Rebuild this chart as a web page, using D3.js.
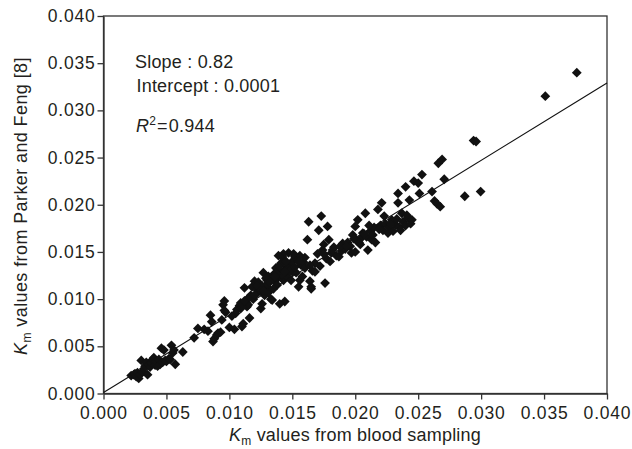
<!DOCTYPE html>
<html>
<head>
<meta charset="utf-8">
<script src="https://cdn.jsdelivr.net/npm/d3@7"></script>
<style>
  html, body { margin: 0; padding: 0; background: #fff; }
  svg { display: block; }
  text { font-family: "Liberation Sans", Arial, Helvetica, sans-serif; fill: #231f20; }
</style>
</head>
<body>
<svg id="chart" width="632" height="449"></svg>
<script>
// Km values (in units of 0.001)
const kmBlood = [
  2.2,2.4,2.5,2.6,2.7,2.8,2.9,3.0,3.1,3.2,3.3,3.4,3.5,3.6,3.7,3.8,3.9,4.0,4.1,4.2,4.3,4.4,4.5,4.6,4.7,4.8,4.9,5.0,5.2,5.3,5.4,5.5,5.6,5.7,6.3,
  7.2,7.5,8.0,8.3,8.5,8.7,8.8,9.0,9.1,9.3,9.4,9.5,9.6,9.7,10.0,10.4,10.6,10.8,10.9,11.0,11.1,11.2,11.3,11.4,11.5,11.6,11.7,11.8,11.9,
  12.0,12.1,12.2,12.3,12.4,12.5,12.6,12.7,12.8,12.9,13.0,13.1,13.2,13.3,13.4,13.5,13.6,13.7,13.8,13.9,14.0,14.1,14.2,14.3,14.4,14.5,
  14.6,14.7,14.8,14.9,15.0,15.1,15.2,15.3,15.4,15.5,15.6,15.7,15.8,15.9,16.0,16.2,16.3,16.4,16.5,16.6,16.8,17.0,17.1,17.3,17.4,17.5,
  17.6,17.7,17.8,17.9,18.0,18.1,18.3,18.5,18.7,18.9,19.0,19.2,19.4,19.6,19.7,19.8,20.0,20.0,20.1,20.2,20.4,20.5,20.6,20.8,20.9,21.0,
  21.2,21.3,21.5,21.6,21.8,22.0,22.1,22.2,22.4,22.6,22.7,22.9,23.0,23.2,23.3,23.4,23.4,23.5,23.7,23.8,24.0,24.0,24.2,24.3,24.4,24.5,
  24.66,25.0,25.1,25.3,26.1,26.3,26.5,26.6,26.75,26.9,27.07,28.7,29.4,29.6,29.96,35.1,37.6,
  12.3,12.6,13.0,13.4,13.8,14.2,14.6,15.0,11.5,11.0,10.9,12.8,13.1,16.0,16.4,16.8,17.2,17.5,15.6,15.1,14.3,13.9,16.5,14.0,
  11.2,11.6,12.0,12.2,12.5,12.9,13.2,13.5,13.7,14.0,14.3,14.5,14.8,15.2,15.5,12.7,13.6,14.4,10.5,10.2,
  19.9,20.3,20.7,21.1,21.4,21.9,22.3,22.8,23.6,24.1,18.2,18.8,19.3,8.6,9.6
];
const kmParker = [
  1.9,2.0,2.1,1.8,2.2,1.6,2.0,3.5,2.3,2.6,2.9,3.3,2.0,3.1,2.8,3.2,3.6,3.8,3.0,3.4,2.9,3.6,3.1,4.8,3.3,4.6,3.5,3.4,3.7,3.6,5.1,4.3,4.6,3.1,4.4,
  5.9,6.9,6.8,6.6,8.3,5.5,5.8,6.2,6.4,6.5,7.8,9.4,9.8,8.6,7.0,6.8,8.9,9.3,9.0,7.1,7.4,11.2,9.6,9.2,10.1,8.0,10.4,11.3,10.0,
  11.9,10.5,11.0,10.8,11.5,9.0,9.5,12.8,11.2,10.6,12.0,12.4,11.0,10.0,9.9,12.6,11.9,13.3,12.2,13.1,12.5,13.8,14.5,12.0,9.75,13.2,
  12.4,14.9,13.5,12.0,14.0,13.0,14.5,12.8,14.2,11.3,12.0,13.6,12.4,13.9,14.4,16.3,18.2,11.9,11.3,13.0,13.8,14.8,17.3,18.8,15.2,15.8,
  11.7,14.3,17.7,16.3,14.0,14.9,15.5,14.6,14.5,15.1,15.9,15.3,16.0,15.6,14.9,16.8,17.7,15.0,16.2,18.4,15.8,16.5,17.0,19.1,16.6,15.2,
  17.2,16.3,17.6,16.0,19.5,17.8,20.2,17.3,18.0,17.0,17.6,18.4,17.2,17.9,18.5,20.2,21.2,17.6,19.1,18.2,21.9,17.8,18.6,20.5,18.0,18.4,
  22.5,22.3,21.2,23.2,21.4,20.4,20.1,24.4,19.8,24.8,22.7,20.9,26.8,26.7,21.4,31.5,34.0,
  11.8,11.4,11.6,12.2,11.5,12.6,13.3,12.9,9.4,9.2,9.6,10.4,10.7,13.3,13.6,12.9,13.5,14.8,14.6,14.8,14.8,14.6,11.1,9.5,
  9.8,10.2,10.4,11.4,10.9,12.2,11.8,11.1,12.7,13.5,13.9,14.0,13.0,13.4,14.0,10.9,12.4,12.9,8.5,8.2,
  16.4,16.0,16.9,17.8,16.8,17.4,18.8,18.0,17.3,18.9,15.2,15.6,15.6,7.6,8.8
];
const regSlope = 0.82;
const regIntercept = 0.0001;
const xTicks = [0, 0.005, 0.010, 0.015, 0.020, 0.025, 0.030, 0.035, 0.040];
const yTicks = [0, 0.005, 0.010, 0.015, 0.020, 0.025, 0.030, 0.035, 0.040];

const points = kmBlood.map((v, i) => ({ x: v / 1000, y: kmParker[i] / 1000 }));

const svg = d3.select("#chart");
const mLeft = 103.5, mRight = 607, mTop = 16, mBottom = 393.5;
const x = d3.scaleLinear().domain([0, 0.04]).range([mLeft, mRight]);
const y = d3.scaleLinear().domain([0, 0.04]).range([mBottom, mTop]);

const axisColor = "#333";

// frame
svg.append("rect")
  .attr("x", mLeft).attr("y", mTop)
  .attr("width", mRight - mLeft).attr("height", mBottom - mTop)
  .attr("fill", "none").attr("stroke", axisColor).attr("stroke-width", 1.3);

const xAxis = svg.append("g")
  .attr("transform", `translate(0,${mBottom})`)
  .call(d3.axisBottom(x).tickValues(xTicks).tickFormat(d3.format(".3f")).tickSize(6).tickSizeOuter(0));
const yAxis = svg.append("g")
  .attr("transform", `translate(${mLeft},0)`)
  .call(d3.axisLeft(y).tickValues(yTicks).tickFormat(d3.format(".3f")).tickSize(6).tickSizeOuter(0));

[xAxis, yAxis].forEach(g => {
  g.select(".domain").attr("stroke", axisColor).attr("stroke-width", 1.3);
  g.selectAll(".tick line").attr("stroke", axisColor).attr("stroke-width", 1.3);
  g.selectAll(".tick text")
    .attr("font-family", "Liberation Sans, Arial, sans-serif")
    .attr("font-size", 17.5).attr("letter-spacing", 0.8).attr("fill", "#231f20");
});
xAxis.selectAll(".tick text").attr("dy", "0.95em").attr("y", 9);
yAxis.selectAll(".tick text").attr("x", -8);

// regression line
svg.append("line")
  .attr("x1", x(0)).attr("y1", y(regIntercept))
  .attr("x2", x(0.04)).attr("y2", y(regSlope * 0.04 + regIntercept))
  .attr("stroke", "#111").attr("stroke-width", 1.1);

// diamonds
const r = 4.9;
svg.append("g").selectAll("path")
  .data(points)
  .join("path")
  .attr("transform", d => `translate(${x(d.x)},${y(d.y)})`)
  .attr("d", `M0,${-r}L${r},0L0,${r}L${-r},0Z`)
  .attr("fill", "#111");

// annotations
const ann = svg.append("g").attr("font-size", 18).attr("letter-spacing", 0.2);
ann.append("text").attr("x", 135).attr("y", 68).text("Slope : 0.82");
ann.append("text").attr("x", 136.5).attr("y", 92).text("Intercept : 0.0001");
const r2 = ann.append("text").attr("x", 136).attr("y", 132);
r2.append("tspan").attr("font-style", "italic").text("R");
r2.append("tspan").attr("font-size", 12).attr("dy", -7).text("2");
r2.append("tspan").attr("dy", 7).attr("dx", 1).text("=");
r2.append("tspan").attr("dx", 1).text("0.944");

// x axis title
const xt = svg.append("text").attr("x", 355).attr("y", 441).attr("text-anchor", "middle")
  .attr("font-size", 18).attr("letter-spacing", 0.2);
xt.append("tspan").attr("font-style", "italic").text("K");
xt.append("tspan").attr("font-size", 12).attr("dy", 4).text("m");
xt.append("tspan").attr("dy", -4).text(" values from blood sampling");

// y axis title
const yt = svg.append("text")
  .attr("transform", "translate(27,206) rotate(-90)")
  .attr("text-anchor", "middle").attr("font-size", 18).attr("letter-spacing", 0.4);
yt.append("tspan").attr("font-style", "italic").text("K");
yt.append("tspan").attr("font-size", 12).attr("dy", 4).text("m");
yt.append("tspan").attr("dy", -4).text(" values from Parker and Feng [8]");
</script>
</body>
</html>
